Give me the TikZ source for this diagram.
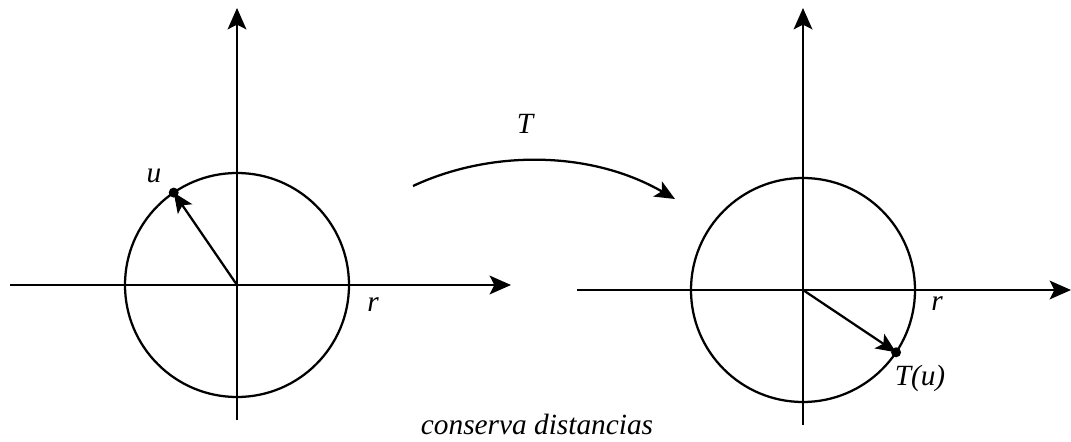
\documentclass[tikz,border=0pt]{standalone}
\usepackage{fontspec}
\setmainfont{Liberation Serif}
\usetikzlibrary{arrows.meta,calc}

\begin{document}
\begin{tikzpicture}[x=0.75pt, y=-0.75pt, line width=1.7pt,
  every node/.style={font=\fontsize{22}{26}\selectfont\itshape},
  axis/.style={-{Stealth[length=16pt, width=14pt, inset=3.5pt]}},
  vec/.style={-{Stealth[length=15pt, width=13pt, inset=3.5pt]}}]
  \useasboundingbox (0,0) rectangle (1071,442);
  % left plane
  \coordinate (o1) at (237,285);
  \coordinate (x1a) at (10,285);
  \coordinate (x1b) at (511,285);
  \coordinate (y1a) at (237,420);
  \coordinate (y1b) at (237,8);
  \draw[axis] (x1a) -- (x1b);
  \draw[axis] (y1a) -- (y1b);
  \draw (o1) circle[radius=112];
  \coordinate (u) at ($(o1)+(-124.4:112)$);
  \fill (u) circle[radius=5];
  \draw[vec] (o1) -- (u);
  \node (ulab) at (154,176) {u};
  \node (r1) at (373,305) {r};
  % right plane
  \coordinate (o2) at (803,290);
  \coordinate (x2a) at (577,290);
  \coordinate (x2b) at (1071,290);
  \coordinate (y2a) at (803,425);
  \coordinate (y2b) at (803,8);
  \draw[axis] (x2a) -- (x2b);
  \draw[axis] (y2a) -- (y2b);
  \draw (o2) circle[radius=112];
  \coordinate (tu) at ($(o2)+(33.8:112)$);
  \fill (tu) circle[radius=5];
  \draw[vec] (o2) -- (tu);
  \node (tulab) at (920,378) {T(u)};
  \node (r2) at (937,304) {r};
  % map T
  \coordinate (ta) at (413,186);
  \coordinate (tb) at (675,199);
  \draw[vec] (ta) .. controls (490,150) and (590,150) .. (tb);
  \node (tlab) at (525,124) {T};
  \node (cap) at (537,424) {conserva distancias};
\end{tikzpicture}
\end{document}
